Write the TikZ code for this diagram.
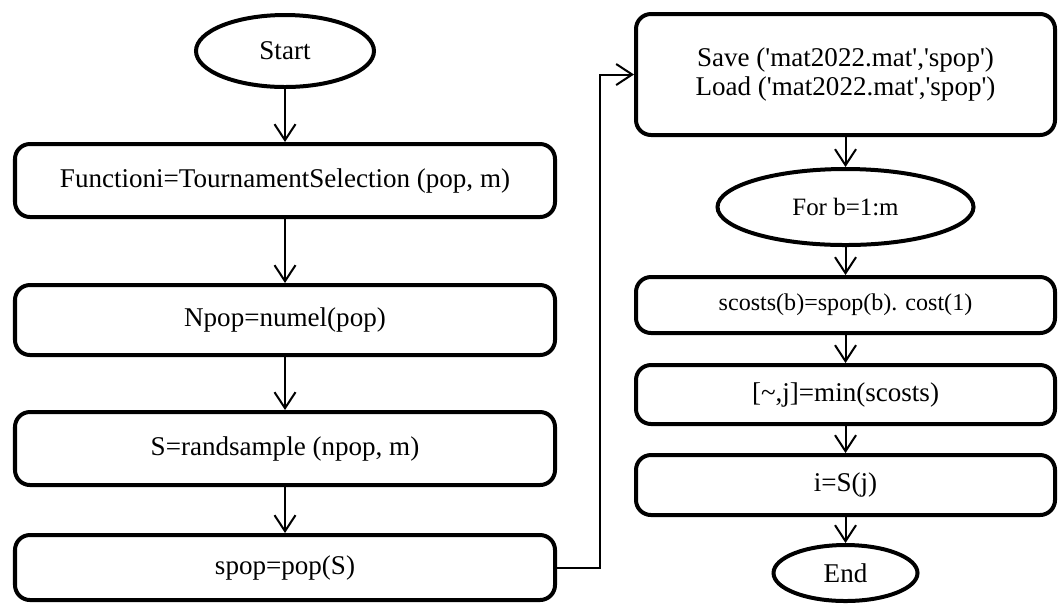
\documentclass[tikz,border=0pt]{standalone}
\usepackage{fontspec}
\setmainfont{Liberation Serif}[Ligatures=TeXOff]
\usetikzlibrary{shapes.geometric,arrows.meta}
\begin{document}
\begin{tikzpicture}
    \tikzset{proc/.style={draw,rounded corners=0.3cm,line width=0.08cm,
      minimum width=10.8cm,align=center,font=\fontsize{15.4}{17}\selectfont},
    rproc/.style={proc,minimum width=8.38cm},
    term/.style={draw,ellipse,line width=0.08cm,inner sep=0pt,
      font=\fontsize{15.4}{17}\selectfont},
    flow/.style={line width=1.15pt,-{Straight Barb[length=0.32cm,width=0.42cm]}}}
    \useasboundingbox (0,0) rectangle (21.2,-12.08);
    % left column
    \node[term,minimum width=3.56cm,minimum height=1.44cm] (start) at (5.70,-1.02) {Start};
    \node[proc,minimum height=1.46cm] (fun) [below of=start,yshift=-1.59cm]
      {Functioni=TournamentSelection (pop, m)};
    \node[proc,minimum height=1.40cm] (npop) [below of=fun,yshift=-1.79cm] {Npop=numel(pop)};
    \node[proc,minimum height=1.46cm] (samp) [below of=npop,yshift=-1.57cm]
      {S=randsample (npop, m)};
    \node[proc,minimum height=1.30cm] (spop) [below of=samp,yshift=-1.38cm] {spop=pop(S)};
    % right column
    \node[rproc,minimum height=2.42cm] (save) [right of=start,xshift=10.21cm,yshift=-0.47cm]
      {Save ('mat2022.mat','spop')\\Load ('mat2022.mat','spop')};
    \node[term,minimum width=5.12cm,minimum height=1.52cm,font=\fontsize{14.2}{17}\selectfont]
      (for) [below of=save,yshift=-1.65cm] {For b=1:m};
    \node[rproc,minimum height=1.12cm,font=\fontsize{13.7}{16}\selectfont] (cost)
      [below of=for,yshift=-0.96cm] {scosts(b)=spop(b). cost(1)};
    \node[rproc,minimum height=1.18cm] (minj) [below of=cost,yshift=-0.79cm]
      {[\textasciitilde,j]=min(scosts)};
    \node[rproc,minimum height=1.20cm] (idx) [below of=minj,yshift=-0.81cm] {i=S(j)};
    \node[term,minimum width=2.88cm,minimum height=1.12cm] (fin) [below of=idx,yshift=-0.76cm] {End};

    \draw[flow] (start) -- (fun);
    \draw[flow] (fun) -- (npop);
    \draw[flow] (npop) -- (samp);
    \draw[flow] (samp) -- (spop);
    \draw[flow] (spop.east) -- ++(0.86,0) |- (save.west);%jump to right column
    \draw[flow] (save) -- (for);
    \draw[flow] (for) -- (cost);
    \draw[flow] (cost) -- (minj);
    \draw[flow] (minj) -- (idx);
    \draw[flow] (idx) -- (fin);
\end{tikzpicture}
\end{document}
